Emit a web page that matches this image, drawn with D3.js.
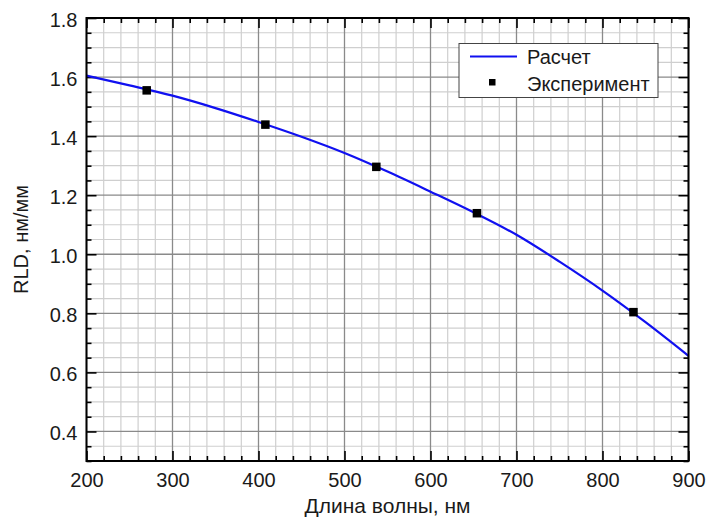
<!DOCTYPE html>
<html>
<head>
<meta charset="utf-8">
<script src="https://cdn.jsdelivr.net/npm/d3@7"></script>
<style>
  html, body { margin: 0; padding: 0; background: #fff; }
  svg { display: block; font-family: "Liberation Sans", Arial, sans-serif; }
</style>
</head>
<body>
<svg id="chart" width="706" height="518"></svg>
<script>
// Calculated curve: wavelength (nm) vs RLD (nm/mm)
const calcWavelength = [200, 250, 300, 350, 400, 450, 500, 550, 600, 650, 700, 750, 800, 850, 900];
const calcRLD = [1.605, 1.572, 1.537, 1.495, 1.448, 1.398, 1.343, 1.280, 1.212, 1.142, 1.066, 0.975, 0.877, 0.770, 0.656];

// Measured points
const expWavelength = [270, 408, 537, 654, 836];
const expRLD = [1.555, 1.439, 1.296, 1.139, 0.804];

// Axis ticks
const xTicks = [200, 300, 400, 500, 600, 700, 800, 900];
const yTicks = [0.4, 0.6, 0.8, 1.0, 1.2, 1.4, 1.6, 1.8];

const xLabel = "Длина волны, нм";
const yLabel = "RLD, нм/мм";
const legendLabels = ["Расчет", "Эксперимент"];

const svg = d3.select("#chart");
const mLeft = 86.5, mRight = 688.5, mTop = 18, mBottom = 461;
const textColor = "#1a1a1a";

const x = d3.scaleLinear().domain([200, 900]).range([mLeft, mRight]);
const y = d3.scaleLinear().domain([0.3, 1.8]).range([mBottom, mTop]);

// Minor steps: 20 nm on x, 0.05 on y
const xMinor = d3.range(10, 46).map(k => k * 20).filter(v => v % 100 !== 0);
const yMinor = d3.range(6, 37).filter(k => k % 4 !== 0).map(k => k * 0.05);

// Minor grid
const grid = svg.append("g");
grid.selectAll(".gxm").data(xMinor).join("line")
  .attr("x1", d => x(d)).attr("x2", d => x(d)).attr("y1", mTop).attr("y2", mBottom)
  .attr("stroke", "#cfcfcf").attr("stroke-width", 1.2);
grid.selectAll(".gym").data(yMinor).join("line")
  .attr("y1", d => y(d)).attr("y2", d => y(d)).attr("x1", mLeft).attr("x2", mRight)
  .attr("stroke", "#cfcfcf").attr("stroke-width", 1.2);
// Major grid
grid.selectAll(".gxM").data(xTicks).join("line")
  .attr("x1", d => x(d)).attr("x2", d => x(d)).attr("y1", mTop).attr("y2", mBottom)
  .attr("stroke", "#8a8a8a").attr("stroke-width", 1.3);
grid.selectAll(".gyM").data(yTicks).join("line")
  .attr("y1", d => y(d)).attr("y2", d => y(d)).attr("x1", mLeft).attr("x2", mRight)
  .attr("stroke", "#8a8a8a").attr("stroke-width", 1.3);

// Axes with inward ticks on all four sides
function styleAxis(g) {
  g.select(".domain").remove();
  g.selectAll(".tick line").attr("stroke", "#000").attr("stroke-width", 1.6);
  g.selectAll("text").attr("font-size", 20).attr("fill", textColor).attr("font-family", "Liberation Sans, Arial, sans-serif");
}
const fmtY = d3.format(".1f");

svg.append("g").attr("transform", `translate(0,${mBottom})`)
  .call(d3.axisBottom(x).tickValues(xMinor).tickSize(-5).tickFormat(""))
  .call(styleAxis);
svg.append("g").attr("transform", `translate(0,${mBottom})`)
  .call(d3.axisBottom(x).tickValues(xTicks).tickSize(-10).tickPadding(11.5).tickFormat(d3.format("d")))
  .call(styleAxis);
svg.append("g").attr("transform", `translate(0,${mTop})`)
  .call(d3.axisTop(x).tickValues(xMinor).tickSize(-5).tickFormat(""))
  .call(styleAxis);
svg.append("g").attr("transform", `translate(0,${mTop})`)
  .call(d3.axisTop(x).tickValues(xTicks).tickSize(-10).tickFormat(""))
  .call(styleAxis);
svg.append("g").attr("transform", `translate(${mLeft},0)`)
  .call(d3.axisLeft(y).tickValues(yMinor).tickSize(-5).tickFormat(""))
  .call(styleAxis);
svg.append("g").attr("transform", `translate(${mLeft},0)`)
  .call(d3.axisLeft(y).tickValues(yTicks).tickSize(-10).tickPadding(9).tickFormat(fmtY))
  .call(styleAxis)
  .call(g => g.selectAll("text").attr("dy", "0.42em"));
svg.append("g").attr("transform", `translate(${mRight},0)`)
  .call(d3.axisRight(y).tickValues(yMinor).tickSize(-5).tickFormat(""))
  .call(styleAxis);
svg.append("g").attr("transform", `translate(${mRight},0)`)
  .call(d3.axisRight(y).tickValues(yTicks).tickSize(-10).tickFormat(""))
  .call(styleAxis);

// Calculated curve
const calc = calcWavelength.map((w, i) => [w, calcRLD[i]]);
svg.append("path").datum(calc)
  .attr("fill", "none").attr("stroke", "#1010f0").attr("stroke-width", 2.2)
  .attr("d", d3.line().x(d => x(d[0])).y(d => y(d[1])).curve(d3.curveMonotoneX));

// Measured points
const exp = expWavelength.map((w, i) => [w, expRLD[i]]);
const ms = 8.5;
svg.append("g").selectAll("rect").data(exp).join("rect")
  .attr("x", d => x(d[0]) - ms / 2).attr("y", d => y(d[1]) - ms / 2)
  .attr("width", ms).attr("height", ms).attr("fill", "#000");

// Frame
svg.append("rect").attr("x", mLeft).attr("y", mTop)
  .attr("width", mRight - mLeft).attr("height", mBottom - mTop)
  .attr("fill", "none").attr("stroke", "#000").attr("stroke-width", 2);

// Legend
const lg = svg.append("g");
lg.append("rect").attr("x", 459).attr("y", 43.5).attr("width", 199).attr("height", 54)
  .attr("fill", "#fff").attr("stroke", "#444").attr("stroke-width", 1);
lg.append("line").attr("x1", 470).attr("x2", 517).attr("y1", 56.5).attr("y2", 56.5)
  .attr("stroke", "#1010f0").attr("stroke-width", 2.2);
lg.append("rect").attr("x", 489).attr("y", 79).attr("width", 6.5).attr("height", 6.5).attr("fill", "#000");
lg.selectAll("text").data(legendLabels).join("text")
  .attr("x", 527).attr("y", (d, i) => 63.5 + i * 27)
  .attr("font-size", 20).attr("fill", textColor).text(d => d);

// Axis titles
svg.append("text").attr("x", (mLeft + mRight) / 2).attr("y", 513)
  .attr("text-anchor", "middle").attr("font-size", 21).attr("fill", textColor).text(xLabel);
svg.append("text").attr("transform", `translate(28,239.5) rotate(-90)`)
  .attr("text-anchor", "middle").attr("font-size", 20).attr("fill", textColor).text(yLabel);
</script>
</body>
</html>
